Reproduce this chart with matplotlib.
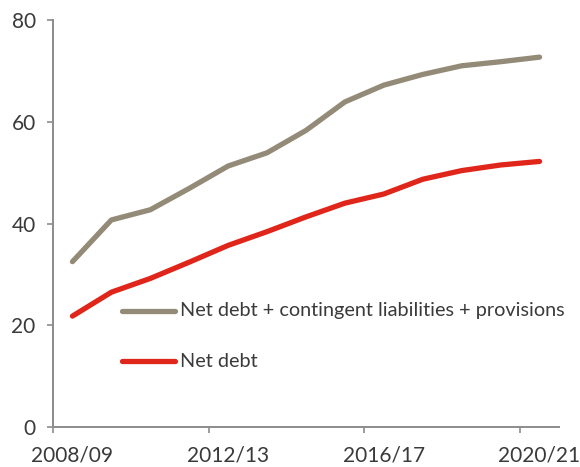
import numpy as np
import matplotlib
matplotlib.use("Agg")
import matplotlib.pyplot as plt
from matplotlib.lines import Line2D

# Years shown on the category axis and their labels
years = ["2008/09", "2009/10", "2010/11", "2011/12", "2012/13", "2013/14",
         "2014/15", "2015/16", "2016/17", "2017/18", "2018/19", "2019/20",
         "2020/21"]
tick_labels = ["2008/09", "2012/13", "2016/17", "2020/21"]

# Per cent of GDP
net_debt_plus = [32.5, 40.7, 42.7, 46.9, 51.3, 53.9, 58.3, 63.9, 67.2, 69.3,
                 71.0, 71.8, 72.7]
net_debt = [21.8, 26.5, 29.2, 32.4, 35.7, 38.4, 41.3, 44.0, 45.8, 48.7,
            50.4, 51.5, 52.2]

series_labels = ["Net debt + contingent liabilities + provisions", "Net debt"]

plt.rcParams['font.family'] = ['Lato', 'DejaVu Sans']

GREY = "#938B77"
RED = "#E0261B"
AXIS = "#8C8C8C"
TEXT = "#3A3A3A"

fig = plt.figure(figsize=(5.8, 4.67), dpi=100)
ax = fig.add_axes([53 / 580, 40 / 467, 506 / 580, 407 / 467])

x = np.arange(len(years))
ax.plot(x, net_debt_plus, color=GREY, lw=3.8, solid_capstyle="round",
        solid_joinstyle="round")
ax.plot(x, net_debt, color=RED, lw=3.8, solid_capstyle="round",
        solid_joinstyle="round")

ax.set_xlim(-0.5, len(years) - 0.5)
ax.set_ylim(0, 80)

for side in ("top", "right"):
    ax.spines[side].set_visible(False)
for side in ("left", "bottom"):
    ax.spines[side].set_color(AXIS)
    ax.spines[side].set_linewidth(1.4)

ax.set_yticks([0, 20, 40, 60, 80])
ax.tick_params(axis="y", length=4.5, width=1.2, color=AXIS, pad=8,
               labelsize=15, labelcolor=TEXT)

# Tick marks sit between categories; labels sit on every fourth year
label_pos = [years.index(t) for t in tick_labels]
ax.set_xticks([p - 0.5 for p in label_pos])
ax.set_xticklabels([])
ax.set_xticks(label_pos, minor=True)
ax.set_xticklabels(tick_labels, minor=True)
ax.tick_params(axis="x", which="major", length=4.5, width=1.2, color=AXIS)
ax.tick_params(axis="x", which="minor", length=0, pad=13, labelsize=15,
               labelcolor=TEXT)

# Legend drawn inside the plot area
for (ly, col, lab) in [(0.2857, GREY, series_labels[0]),
                       (0.162, RED, series_labels[1])]:
    ax.add_line(Line2D([0.1364, 0.2411], [ly, ly], transform=ax.transAxes,
                       color=col, lw=3.8, solid_capstyle="round"))
    ax.text(0.251, ly, lab, transform=ax.transAxes, va="center", ha="left",
            fontsize=14.3, color=TEXT)

fig.savefig("out.png", dpi=100)
